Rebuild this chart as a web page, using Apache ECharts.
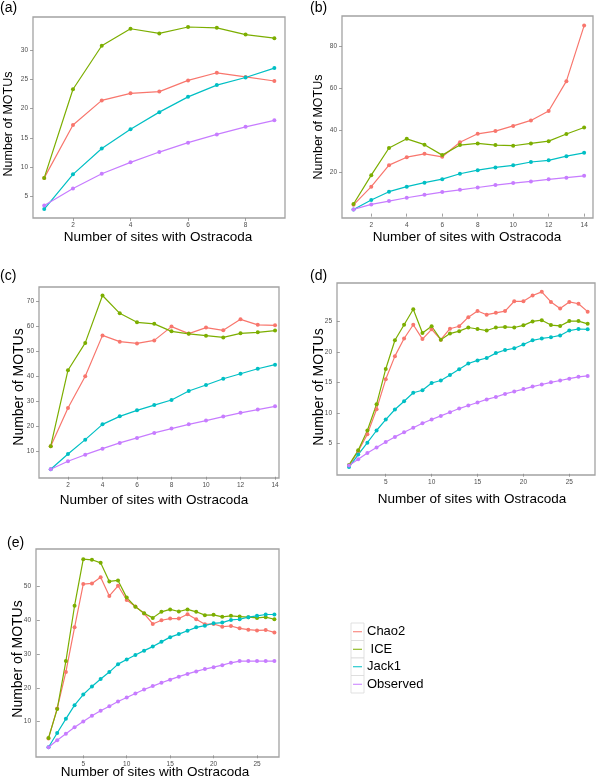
<!DOCTYPE html>
<html>
<head>
<meta charset="utf-8">
<script src="https://cdn.jsdelivr.net/npm/echarts@6/dist/echarts.min.js"></script>
<style>
html,body{margin:0;padding:0;background:#fff;}
#chart{width:600px;height:784px;}
</style>
</head>
<body>
<div id="chart"></div>
<script>
// ---------- DATA ----------
const seriesNames = ['Chao2', 'ICE', 'Jack1', 'Observed'];

const sitesA = [1,2,3,4,5,6,7,8,9];
const aChao2 = [8.2,17.2,21.4,22.6,22.9,24.8,26.1,25.4,24.7];
const aICE = [8.2,23.3,30.7,33.6,32.8,33.9,33.75,32.6,32.0];
const aJack1 = [2.9,8.8,13.2,16.5,19.4,22.0,24.0,25.3,26.9];
const aObserved = [3.5,6.4,8.9,10.85,12.6,14.2,15.6,16.9,18.0];
const aXTicks = [2,4,6,8];
const aYTicks = [5,10,15,20,25,30];

const sitesB = [1,2,3,4,5,6,7,8,9,10,11,12,13,14];
const bChao2 = [4.2,12.9,23.2,27.0,28.6,27.2,34.2,38.2,39.5,42.0,44.6,49.1,63.4,90.0];
const bICE = [4.6,18.4,31.4,35.8,33.0,28.0,32.8,33.6,32.8,32.5,33.6,34.7,38.1,41.2];
const bJack1 = [2.0,6.5,10.5,12.9,14.8,16.5,19.1,20.8,22.1,23.1,24.7,25.5,27.5,29.1];
const bObserved = [2.0,4.4,6.0,7.6,9.0,10.3,11.4,12.5,13.65,14.6,15.4,16.4,17.2,18.1];
const bXTicks = [2,4,6,8,10,12,14];
const bYTicks = [20,40,60,80];

const sitesC = [1,2,3,4,5,6,7,8,9,10,11,12,13,14];
const cChao2 = [12.2,27.4,40.1,56.4,53.9,53.2,54.4,59.9,57.1,59.5,58.4,62.8,60.6,60.4];
const cICE = [12.2,42.5,53.4,72.3,65.2,61.6,61.0,58.0,57.0,56.3,55.6,57.2,57.6,58.3];
const cJack1 = [3.0,9.1,14.8,20.9,24.1,26.5,28.6,30.6,34.2,36.6,39.1,41.1,43.1,44.7];
const cObserved = [3.0,6.2,8.8,11.2,13.5,15.5,17.5,19.2,20.9,22.4,24.0,25.5,26.8,28.1];
const cXTicks = [2,4,6,8,10,12,14];
const cYTicks = [10,20,30,40,50,60,70];

const sitesD = [1,2,3,4,5,6,7,8,9,10,11,12,13,14,15,16,17,18,19,20,21,22,23,24,25,26,27];
const dChao2 = [1.35,3.7,6.5,10.6,15.5,19.3,22.2,24.45,22.1,23.7,22.0,23.8,24.2,25.7,26.7,26.1,26.4,26.7,28.3,28.3,29.25,29.85,28.2,27.1,28.2,27.9,26.6];
const dICE = [1.45,3.85,7.1,11.4,17.2,21.9,24.45,27.0,23.1,24.2,22.0,23.0,23.4,24.0,23.75,23.5,24.0,24.1,24.0,24.35,25.0,25.2,24.4,24.25,25.05,25.05,24.6];
const dJack1 = [1.1,3.15,5.1,7.1,8.9,10.55,11.9,13.3,13.7,14.9,15.3,16.2,17.15,18.1,18.6,19.0,19.8,20.3,20.6,21.2,21.9,22.2,22.4,22.7,23.5,23.75,23.7];
const dObserved = [1.35,2.4,3.4,4.3,5.2,6.05,6.8,7.55,8.3,8.9,9.5,10.1,10.7,11.2,11.7,12.2,12.6,13.1,13.5,13.9,14.3,14.65,15.0,15.3,15.6,15.9,16.05];
const dXTicks = [5,10,15,20,25];
const dYTicks = [5,10,15,20,25];

const sitesE = [1,2,3,4,5,6,7,8,9,10,11,12,13,14,15,16,17,18,19,20,21,22,23,24,25,26,27];
const eChao2 = [5.0,13.9,24.7,37.9,50.7,50.9,52.7,47.2,50.2,46.0,44.1,42.0,38.9,40.0,40.5,40.5,41.8,40.3,38.8,38.9,38.1,38.3,37.6,37.2,37.0,37.1,36.4];
const eICE = [5.15,13.7,27.9,44.3,58.1,57.9,57.0,51.5,51.8,46.7,44.0,42.1,40.7,42.5,43.2,42.6,43.2,42.5,41.5,41.6,41.0,41.3,41.1,40.9,40.7,40.9,40.3];
const eJack1 = [2.4,6.6,10.8,14.85,18.0,20.4,22.6,24.65,27.0,28.4,29.7,31.0,32.2,33.6,35.0,35.9,36.9,37.9,38.4,39.1,39.3,40.1,40.3,40.9,41.3,41.7,41.7];
const eObserved = [2.4,4.45,6.4,8.3,10.0,11.7,13.2,14.55,15.95,17.1,18.3,19.5,20.5,21.5,22.4,23.3,24.1,24.85,25.55,26.1,26.7,27.4,27.9,27.9,27.9,27.9,27.9];
const eXTicks = [5,10,15,20,25];
const eYTicks = [10,20,30,40,50];

const panelLabels = ['(a)','(b)','(c)','(d)','(e)'];
const xTitle = 'Number of sites with Ostracoda';
const yTitle = 'Number of MOTUs';

// ---------- STYLE / LAYOUT ----------
const colors = ['#F8766D', '#7CAE00', '#00BFC4', '#C77CFF'];

const panels = [
  {sites: sitesA, vals: [aChao2,aICE,aJack1,aObserved], xt: aXTicks, yt: aYTicks,
   grid:{left:33, top:17, width:252, height:201}, xr:[0.61,9.37], yr:[1.37,35.6],
   lab:[0,8], xtPos:[158,237], ytPos:[9,124], ytSize:12.5},
  {sites: sitesB, vals: [bChao2,bICE,bJack1,bObserved], xt: bXTicks, yt: bYTicks,
   grid:{left:342, top:16, width:251, height:202}, xr:[0.35,14.5], yr:[-2.1,94.6],
   lab:[310,8], xtPos:[467,237], ytPos:[319,127], ytSize:12.5},
  {sites: sitesC, vals: [cChao2,cICE,cJack1,cObserved], xt: cXTicks, yt: cYTicks,
   grid:{left:39, top:287, width:240, height:191}, xr:[0.32,14.23], yr:[-0.5,75.7],
   lab:[0,276], xtPos:[154,500], ytPos:[19,387], ytSize:14},
  {sites: sitesD, vals: [dChao2,dICE,dJack1,dObserved], xt: dXTicks, yt: dYTicks,
   grid:{left:337, top:283, width:258, height:192}, xr:[-0.31,27.8], yr:[-0.2,31.3],
   lab:[310,276], xtPos:[472,499], ytPos:[319,387], ytSize:14},
  {sites: sitesE, vals: [eChao2,eICE,eJack1,eObserved], xt: eXTicks, yt: eYTicks,
   grid:{left:36, top:549, width:243, height:208}, xr:[-0.44,27.53], yr:[-0.5,61.1],
   lab:[7,543], xtPos:[155,772], ytPos:[18,659], ytSize:14}
];

const tickLabelStyle = {color:'#4d4d4d', fontSize:6.5, fontFamily:'Liberation Sans, Arial, sans-serif'};
const tickStyle = {show:true, inside:false, length:3, lineStyle:{color:'#8a8a8a', width:0.8}};

const grids = [], xAxes = [], yAxes = [], series = [], graphics = [];

panels.forEach((p, i) => {
  grids.push(Object.assign({show:true, borderColor:'#a3a3a3', borderWidth:1.3, backgroundColor:'#fff'}, p.grid));
  xAxes.push({
    type:'value', gridIndex:i, min:p.xr[0], max:p.xr[1],
    axisLine:{show:false}, splitLine:{show:false},
    axisTick:Object.assign({customValues:p.xt}, tickStyle),
    axisLabel:Object.assign({customValues:p.xt, margin:4}, tickLabelStyle)
  });
  yAxes.push({
    type:'value', gridIndex:i, min:p.yr[0], max:p.yr[1],
    axisLine:{show:false}, splitLine:{show:false},
    axisTick:Object.assign({customValues:p.yt}, tickStyle),
    axisLabel:Object.assign({customValues:p.yt, margin:5}, tickLabelStyle)
  });
  p.vals.forEach((vals, k) => {
    series.push({
      name: seriesNames[k], type:'line', xAxisIndex:i, yAxisIndex:i,
      data: vals.map((v, j) => [p.sites[j], v]),
      symbol:'circle', symbolSize:4, showSymbol:true,
      lineStyle:{color:colors[k], width:1.2},
      itemStyle:{color:colors[k]},
      animation:false, silent:true
    });
  });
  graphics.push({type:'text', x:p.lab[0], y:p.lab[1],
    style:{text:panelLabels[i], font:'14px "Liberation Sans", Arial, sans-serif', fill:'#000', textAlign:'left', textVerticalAlign:'middle'}});
  graphics.push({type:'text', x:p.xtPos[0], y:p.xtPos[1],
    style:{text:xTitle, font:'13.5px "Liberation Sans", Arial, sans-serif', fill:'#000', textAlign:'center', textVerticalAlign:'middle'}});
  graphics.push({type:'text', x:p.ytPos[0], y:p.ytPos[1], rotation:Math.PI/2,
    style:{text:yTitle, font:p.ytSize+'px "Liberation Sans", Arial, sans-serif', fill:'#000', textAlign:'center', textVerticalAlign:'middle'}});
});

// legend (drawn as graphics)
const legendLabels = ['Chao2', ' ICE', 'Jack1', 'Observed'];
const legX = 351, legY = 623, legH = 17.5, legW = 13;
legendLabels.forEach((t, k) => {
  const y0 = legY + k*legH;
  graphics.push({type:'rect', shape:{x:legX, y:y0, width:legW, height:legH},
    style:{fill:'#fff', stroke:'#d9d9d9', lineWidth:0.8}});
  graphics.push({type:'line', shape:{x1:legX+2, y1:y0+legH/2, x2:legX+legW-2, y2:y0+legH/2},
    style:{stroke:colors[k], lineWidth:1}});
  graphics.push({type:'text', x:legX+legW+3, y:y0+legH/2,
    style:{text:t, font:'13px "Liberation Sans", Arial, sans-serif', fill:'#000', textAlign:'left', textVerticalAlign:'middle'}});
});

const chart = echarts.init(document.getElementById('chart'), null, {renderer:'canvas'});
chart.setOption({
  animation:false,
  backgroundColor:'#fff',
  grid: grids, xAxis: xAxes, yAxis: yAxes, series: series,
  graphic: graphics
});
</script>
</body>
</html>
